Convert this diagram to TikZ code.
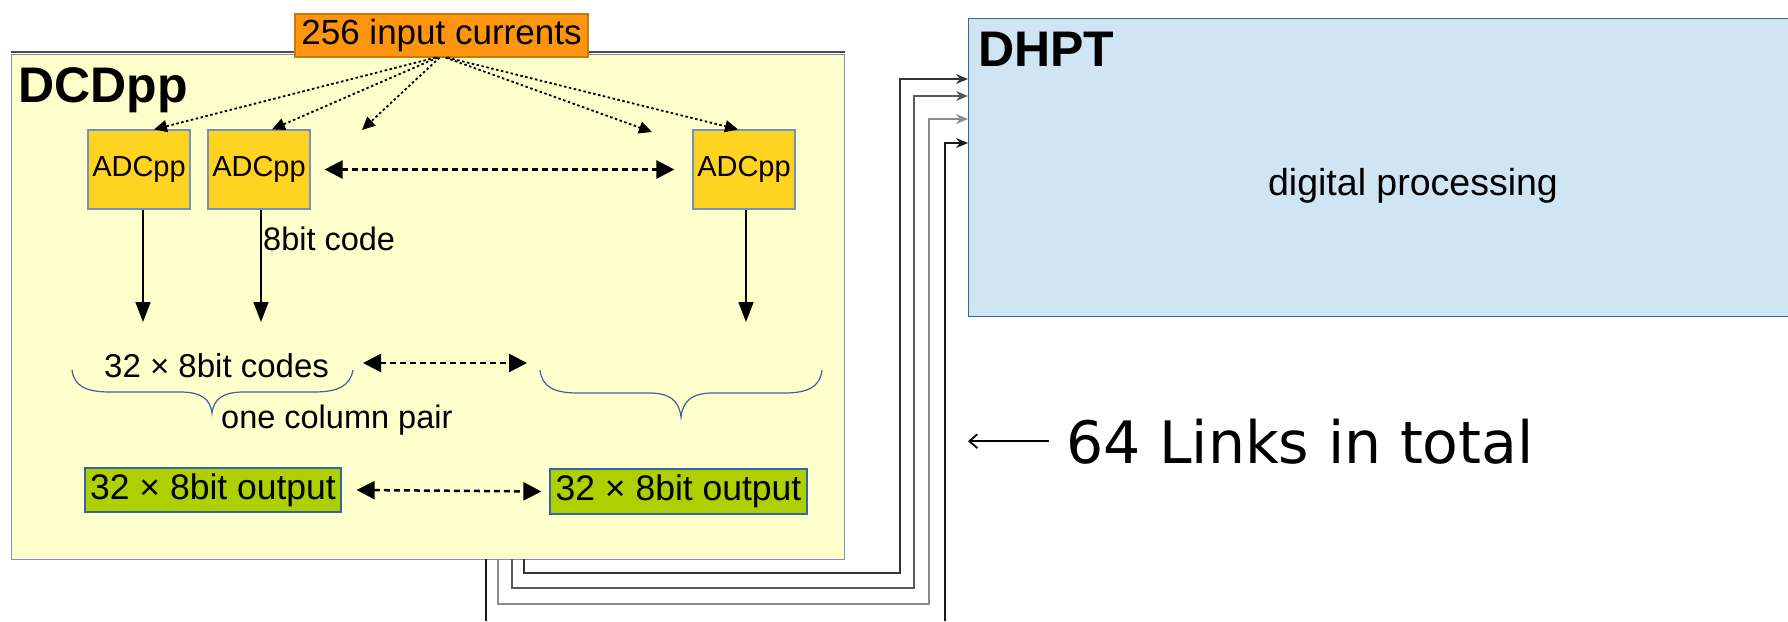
\documentclass[tikz,border=0pt]{standalone}
\usepackage{fontspec}
\setmainfont{Liberation Sans}
\newfontfamily\linksfont{DejaVu Sans}
\usetikzlibrary{arrows.meta}
\definecolor{dcdfill}{HTML}{FFFFCC}
\definecolor{dcdline}{HTML}{7393BC}
\definecolor{inorange}{HTML}{FF950E}
\definecolor{adcgold}{HTML}{FFD320}
\definecolor{outgreen}{HTML}{AECF00}
\definecolor{dhptblue}{HTML}{CFE5F3}
\definecolor{dhptline}{HTML}{3465A4}
\newcommand{\fs}[1]{\fontsize{#1}{#1}\selectfont}

\begin{document}
\begin{tikzpicture}[x=1pt, y=-1pt,
                    block/.style={draw=dcdline, line width=1.2pt, inner sep=0pt},
                    adc/.style={block, fill=adcgold, minimum width=102, minimum height=79, font=\fs{29}},
                    outbox/.style={block, draw=dhptline, fill=outgreen, minimum height=44, font=\fs{35.5}},
                    lbl/.style={inner sep=0pt, anchor=base west},
                    title/.style={lbl, font=\bfseries\fs{50}},
                    fan/.style={dash pattern=on 2.5pt off 2.5pt, line width=1.8pt, -{Triangle[length=13pt,width=12pt]}},
                    down/.style={line width=1.5pt, -{Triangle[length=20pt,width=15pt]}},
                    pairarrow/.style={dash pattern=on 6pt off 4pt, line width=2.5pt,
                                      {Triangle[length=18pt,width=18pt]}-{Triangle[length=18pt,width=18pt]}},
                    brace/.style={draw=dhptline, line width=1.2pt},
                    wire/.style={line width=2pt, -{Stealth[length=12pt,width=10pt]}}]
\useasboundingbox (0,0) rectangle (1788,621);

\node[block, fill=dcdfill, minimum width=833, minimum height=505, anchor=north west] (dcd) at (11,54) {};
\draw[line width=2.5pt, black!70] ([yshift=2pt]dcd.north west) -- ([yshift=2pt]dcd.north east);
\node[title] (dcdname) at (18,102) {DCDpp};
\node[block, draw=inorange!80!black, fill=inorange, minimum width=293, minimum height=43, font=\fs{35}] (inputs) at (441.5,35.5) {256 input currents};

\node[adc] (adc1) at (139,169.5) {ADCpp};
\node[adc] (adc2) at (259,169.5) {ADCpp};
\node[adc] (adc3) at (744,169.5) {ADCpp};

\coordinate (gap1) at (362,130);
\coordinate (gap2) at (652,132);
\draw[fan] ([xshift=-6pt]inputs.south) -- ([xshift=15pt]adc1.north);
\draw[fan] ([xshift=-4pt]inputs.south) -- ([xshift=13pt]adc2.north);
\draw[fan] ([xshift=-2pt]inputs.south) -- (gap1);
\draw[fan] ([xshift=4pt]inputs.south) -- (gap2);
\draw[fan] ([xshift=6pt]inputs.south) -- ([xshift=-6pt]adc3.north);
\draw[pairarrow] ([xshift=14pt]adc2.east) -- ([xshift=-18pt]adc3.west);

\coordinate (code1) at (143,322);
\coordinate (code2) at (261,322);
\coordinate (code3) at (746,322);
\draw[down] (adc1.south -| code1) -- (code1);
\draw[down] (adc2.south -| code2) -- (code2);
\draw[down] (adc3.south -| code3) -- (code3);
\node[lbl, font=\fs{32.5}] (codelbl) at (263,250) {8bit code};

\node[lbl, font=\fs{33}] (codes) at (104,377) {32 × 8bit codes};
\coordinate (cl) at (363,363);
\coordinate (cr) at (527,363);
\draw[pairarrow] (cl) -- (cr);
\draw[brace] (72,370) .. controls (74,386) and (86,392) .. (110,392) -- (180,392)
             .. controls (200,392) and (210,398) .. (212,413)
             .. controls (214,398) and (224,392) .. (244,392) -- (314,392)
             .. controls (338,392) and (350,386) .. (353,370);
\draw[brace] (540,370) .. controls (542,387) and (554,393) .. (578,393) -- (649,393)
             .. controls (669,393) and (679,400) .. (681,417)
             .. controls (683,400) and (693,393) .. (713,393) -- (784,393)
             .. controls (808,393) and (820,387) .. (822,370);
\node[lbl, font=\fs{32.5}] (pairlbl) at (221,428) {one column pair};

\node[outbox, minimum width=256] (out1) at (213,490) {32 × 8bit output};
\node[outbox, minimum width=257, minimum height=45] (out2) at (678.5,491.5) {32 × 8bit output};
\draw[pairarrow] ([xshift=15pt]out1.east) -- ([xshift=-8pt]out2.west);

\node[block, draw=dhptline, fill=dhptblue, minimum width=840, minimum height=298, anchor=north west] (dhpt) at (968,18) {};
\node[title] (dhptname) at (978,66) {DHPT};
\node[inner sep=0pt, font=\fs{37.5}] (dsp) at (1413,186) {digital processing};

\node[lbl, font=\linksfont\fs{58.5}] (links) at (1066,463) {64 Links in total};
\draw[line width=1.8pt, -{Straight Barb[length=8pt,width=14pt]}] ([xshift=-17pt]links.west) -- (links.west -| dhpt.west);

\coordinate (o1) at (524,559);
\coordinate (o2) at (512,559);
\coordinate (o3) at (498,559);
\coordinate (o4) at (486,559);
\coordinate (r1) at (900,573);
\coordinate (r2) at (914,588);
\coordinate (r3) at (929,604);
\coordinate (b4) at (486,621);
\coordinate (r4) at (945,621);
\coordinate (i1) at (968,79);
\coordinate (i2) at (968,96);
\coordinate (i3) at (968,119);
\coordinate (i4) at (968,143);
\draw[wire, black!80] (o1) |- (r1) |- (i1);
\draw[wire, black!65] (o2) |- (r2) |- (i2);
\draw[wire, black!45] (o3) |- (r3) |- (i3);
\draw[line width=2pt, black!90] (o4) -- (b4);
\draw[wire, black!90] (r4) |- (i4);
\end{tikzpicture}
\end{document}
